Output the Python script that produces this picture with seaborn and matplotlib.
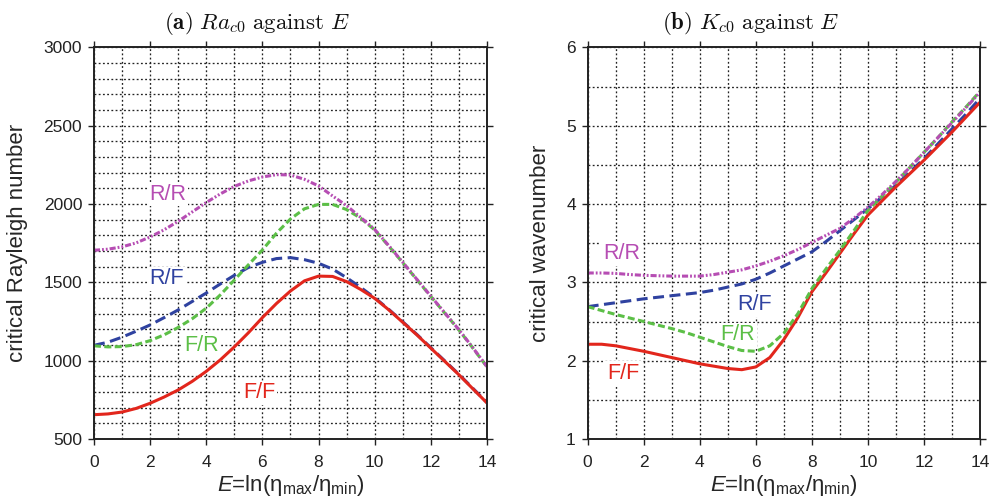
import matplotlib
matplotlib.use("Agg")
import matplotlib.pyplot as plt
import numpy as np
import pandas as pd
import seaborn as sns
from matplotlib.ticker import MultipleLocator

# viscosity contrast E = ln(eta_max / eta_min)
E = [0, 0.5, 1, 1.5, 2, 2.5, 3, 3.5, 4, 4.5, 5, 5.5, 6, 6.5, 7,
     7.5, 8, 8.5, 9, 9.5, 10, 10.5, 11, 11.5, 12, 12.5, 13, 13.5, 14]

cases = ["R/F", "F/F", "F/R", "R/R"]

# critical Rayleigh number Ra_c0
ra_ff = [655, 660, 672, 695, 728, 768, 813, 868, 932, 1005, 1088, 1178, 1275, 1365, 1445,
         1510, 1540, 1538, 1505, 1455, 1398, 1325, 1245, 1165, 1080, 995, 910, 820, 730]
ra_rf = [1098, 1118, 1150, 1188, 1228, 1275, 1324, 1378, 1432, 1490, 1545, 1595, 1628, 1652, 1658,
         1645, 1622, 1585, 1530, 1468, 1402, 1328, 1248, 1168, 1083, 998, 913, 823, 733]
ra_fr = [1095, 1088, 1090, 1102, 1128, 1165, 1212, 1268, 1335, 1420, 1515, 1612, 1707, 1814, 1905,
         1970, 1998, 1998, 1965, 1910, 1835, 1732, 1626, 1518, 1410, 1303, 1196, 1080, 960]
ra_rr = [1705, 1712, 1727, 1752, 1790, 1836, 1890, 1950, 2010, 2065, 2113, 2148, 2173, 2188, 2186,
         2158, 2116, 2052, 1990, 1915, 1838, 1735, 1628, 1520, 1412, 1305, 1198, 1082, 962]

# critical wavenumber K_c0
k_ff = [2.21, 2.21, 2.19, 2.155, 2.12, 2.08, 2.04, 2.00, 1.96, 1.93, 1.90, 1.885, 1.92, 2.04, 2.27,
        2.55, 2.88, 3.12, 3.37, 3.62, 3.86, 4.04, 4.22, 4.39, 4.56, 4.74, 4.92, 5.11, 5.30]
k_fr = [2.69, 2.64, 2.59, 2.545, 2.50, 2.455, 2.41, 2.36, 2.30, 2.24, 2.18, 2.13, 2.12, 2.19, 2.35,
        2.60, 2.92, 3.17, 3.41, 3.66, 3.92, 4.10, 4.28, 4.47, 4.66, 4.85, 5.05, 5.24, 5.44]
k_rf = [2.69, 2.715, 2.74, 2.765, 2.79, 2.81, 2.83, 2.85, 2.87, 2.90, 2.94, 2.98, 3.04, 3.12, 3.21,
        3.30, 3.39, 3.52, 3.66, 3.80, 3.94, 4.09, 4.24, 4.41, 4.58, 4.77, 4.96, 5.15, 5.35]
k_rr = [3.12, 3.12, 3.115, 3.10, 3.09, 3.085, 3.08, 3.08, 3.08, 3.10, 3.13, 3.16, 3.21, 3.27, 3.34,
        3.42, 3.51, 3.60, 3.69, 3.82, 3.96, 4.12, 4.29, 4.47, 4.66, 4.85, 5.04, 5.23, 5.43]

# in-plot curve labels: (E, value)
ra_label_pos = {"R/R": (2.64, 2064), "R/F": (2.6, 1522), "F/R": (3.85, 1100), "F/F": (5.88, 794)}
k_label_pos = {"R/R": (1.21, 3.37), "R/F": (5.94, 2.72), "F/R": (5.35, 2.33), "F/F": (1.27, 1.84)}

palette = {"F/F": "#e2261c", "F/R": "#5cbf47", "R/F": "#2f42a0", "R/R": "#b64db3"}
dashes = {"F/F": "", "F/R": (2.3, 1.1), "R/F": (3.6, 1.8),
          "R/R": (2.0, 0.65, 0.6, 0.65, 0.6, 0.65)}


def long_table(series):
    rows = []
    for case, vals in series.items():
        for e, v in zip(E, vals):
            rows.append({"E": e, "value": v, "case": case})
    return pd.DataFrame(rows)


ra_df = long_table({"R/F": ra_rf, "F/F": ra_ff, "F/R": ra_fr, "R/R": ra_rr})
k_df = long_table({"R/F": k_rf, "F/F": k_ff, "F/R": k_fr, "R/R": k_rr})

sns.set_theme(style="ticks")
plt.rcParams["font.family"] = ["Liberation Sans", "DejaVu Sans"]
plt.rcParams["mathtext.fontset"] = "custom"
plt.rcParams["mathtext.rm"] = "Liberation Sans"
plt.rcParams["mathtext.it"] = "Liberation Sans:italic"
plt.rcParams["mathtext.bf"] = "Liberation Sans:bold"

fig = plt.figure(figsize=(9.89, 5.01), dpi=100)
ax1 = fig.add_axes([0.0950, 0.1238, 0.3974, 0.7814])
ax2 = fig.add_axes([0.5942, 0.1238, 0.3967, 0.7814])

xlabel = r"$E$=ln(η$_{\rm max}$/η$_{\rm min}$)"


def style_axes(ax, ylim, ymajor, yminor, ylabel, title):
    ax.set_xlim(0, 14)
    ax.set_ylim(*ylim)
    ax.xaxis.set_major_locator(MultipleLocator(2))
    ax.xaxis.set_minor_locator(MultipleLocator(1))
    ax.yaxis.set_major_locator(MultipleLocator(ymajor))
    ax.yaxis.set_minor_locator(MultipleLocator(yminor))
    ax.set_axisbelow(True)
    ax.grid(which="both", color="#222222", linestyle=(0, (1.4, 1.8)), linewidth=0.95)
    ax.tick_params(which="major", direction="out", length=4.5, width=1.0,
                   top=True, right=True, labeltop=False, labelright=False,
                   labelsize=12.5, colors="#222222")
    ax.tick_params(axis="x", which="major", pad=7)
    ax.tick_params(axis="y", which="major", pad=4)
    ax.tick_params(which="minor", length=0)
    for sp in ax.spines.values():
        sp.set_visible(True)
        sp.set_linewidth(1.4)
        sp.set_color("#222222")
    ax.set_xlabel(xlabel, fontsize=16, labelpad=2)
    ax.set_ylabel(ylabel, fontsize=16, labelpad=11)
    ax.text(0.415, 1.047, title, transform=ax.transAxes, ha="center", va="baseline",
            fontsize=16.5, math_fontfamily="cm", color="#111111")


for ax, df, pos in [(ax1, ra_df, ra_label_pos), (ax2, k_df, k_label_pos)]:
    sns.lineplot(data=df, x="E", y="value", hue="case", style="case",
                 hue_order=cases, style_order=cases, palette=palette, dashes=dashes,
                 linewidth=2.2, legend=False, sort=False, estimator=None, ax=ax)
    for case, (xe, yv) in pos.items():
        ax.text(xe, yv, case, color=palette[case], fontsize=15.5, ha="center", va="center",
                zorder=1.5,
                bbox=dict(facecolor="white", edgecolor="none", boxstyle="square,pad=0.08"))

style_axes(ax1, (500, 3000), 500, 100, "critical Rayleigh number",
           r"$\mathbf{(a)}\ Ra_{c0}\ \mathrm{against}\ E$")
style_axes(ax2, (1, 6), 1, 0.5, "critical wavenumber",
           r"$\mathbf{(b)}\ K_{c0}\ \mathrm{against}\ E$")

fig.savefig("out.png", dpi=100)
